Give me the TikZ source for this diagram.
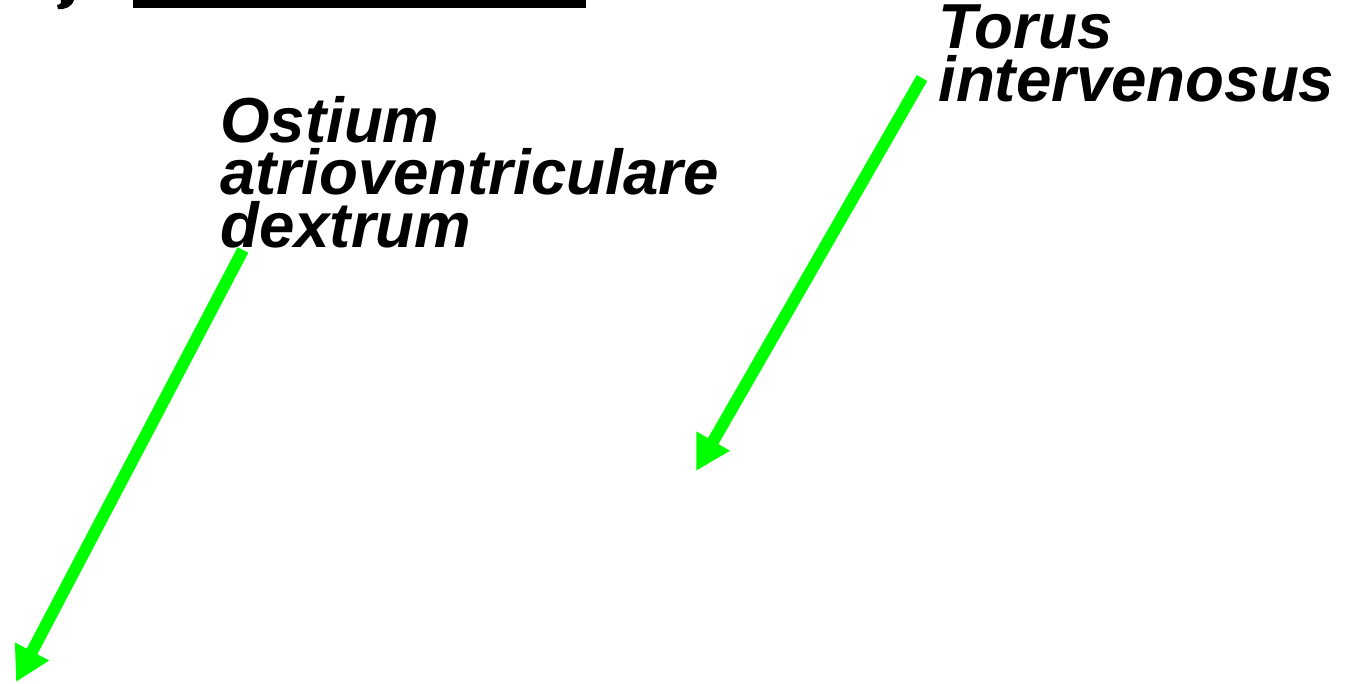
\documentclass[tikz,border=0pt]{standalone}
\usepackage{fontspec}
\setmainfont{Liberation Sans}
\usetikzlibrary{arrows.meta}
\definecolor{pointgreen}{rgb}{0,1,0}
\tikzset{lbl/.style={inner sep=0pt, anchor=base west, align=left, font=\bfseries\itshape\fontsize{36.2pt}{29.8pt}\selectfont}}
\tikzset{pointer/.style={draw=pointgreen, line width=0.24cm, -{Triangle[length=0.69cm, width=0.72cm]}}}

\begin{document}
\begin{tikzpicture}[x=0.02cm, y=-0.02cm]
\useasboundingbox (0,0) rectangle (1348,683);
% cut-off bits along the top edge
\fill (133,0) rectangle (586,8);
\fill (58,9) .. controls (64,10) and (72,7) .. (74,0) -- (61,0) .. controls (61,4) .. (57,5) -- cycle;
% labels
\node[lbl] (ostium) at (220,247) {Ostium\\atrioventriculare\\dextrum};
\node[lbl] (torus) at (938,101) {Torus\\intervenosus};
% arrows
\coordinate (ostiumstart) at (243,250);
\coordinate (ostiumtip) at (16,682);
\coordinate (torusstart) at (922,78);
\coordinate (torustip) at (696,471);
\draw[pointer] (ostiumstart) -- (ostiumtip);
\draw[pointer] (torusstart) -- (torustip);
\end{tikzpicture}
\end{document}
